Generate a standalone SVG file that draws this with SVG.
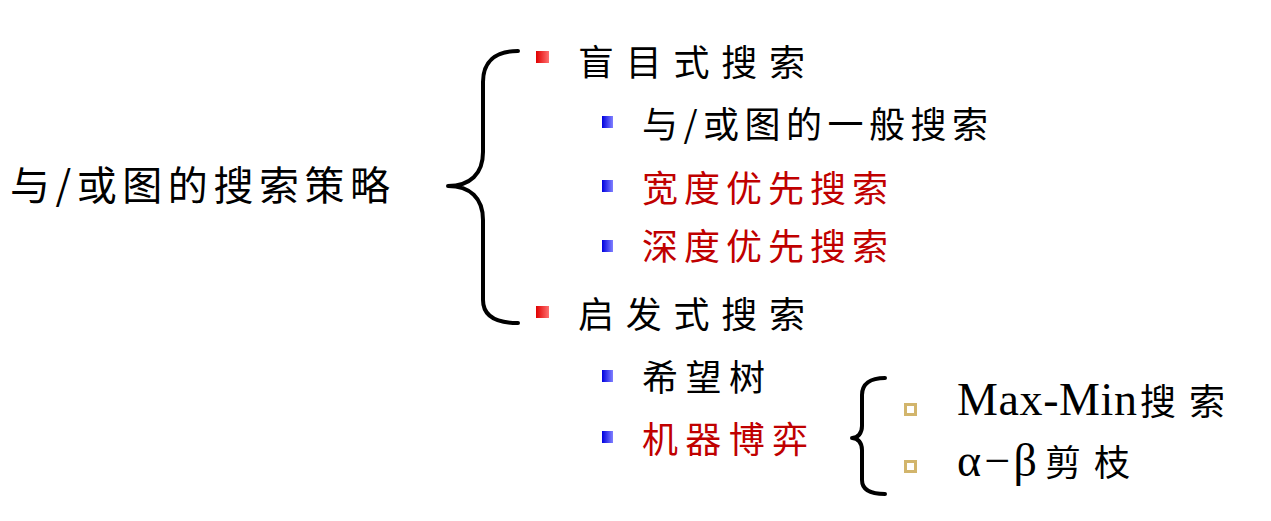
<svg xmlns="http://www.w3.org/2000/svg" width="1271" height="521" viewBox="0 0 1271 521">
<style>
.cjk{font-family:"Noto Sans CJK SC","Noto Sans CJK JP",sans-serif;fill:#000}
.red{fill:#c00000}
.lat{font-family:"Liberation Serif","Noto Sans CJK SC",serif;fill:#000}
.brace{fill:none;stroke:#000;stroke-width:4;stroke-linecap:round;stroke-linejoin:round}
.hollow{fill:#fff;stroke:#d2b56c;stroke-width:3}
</style>
<defs>
<linearGradient id="gr" x1="0" y1="0" x2="1" y2="0">
<stop offset="0" stop-color="#e00000"/><stop offset="1" stop-color="#ff7070"/>
</linearGradient>
<linearGradient id="gb" x1="0" y1="0" x2="1" y2="0">
<stop offset="0" stop-color="#0000e0"/><stop offset="1" stop-color="#8080ff"/>
</linearGradient>
</defs>
<rect width="1271" height="521" fill="#fff"/>
<g id="connectors">
<path class="brace" d="M518,51 C495,51 483,62 483,82 L483,152 C483,174 470,186 448,186 C470,186 483,198 483,220 L483,300 C483,316 495,323 518,323"/>
<path class="brace" d="M885,378 C870,378 862,384 862,395 L862,426 C862,433 858,438 852,438 C858,438 862,443 862,450 L862,480 C862,489 870,494 885,494"/>
</g>
<g id="root"><text class="cjk" x="10" y="200" font-size="40" textLength="380" lengthAdjust="spacing">与/或图的搜索策略</text></g>
<g id="blind">
<rect x="536" y="51" width="13" height="12" fill="url(#gr)"/>
<text class="cjk" x="578" y="76" font-size="36" textLength="227" lengthAdjust="spacing">盲目式搜索</text>
</g>
<g id="general">
<rect x="602" y="116" width="11" height="12" fill="url(#gb)"/>
<text class="cjk" x="642" y="138" font-size="36" textLength="346" lengthAdjust="spacing">与/或图的一般搜索</text>
</g>
<g id="bfs">
<rect x="602" y="180" width="11" height="12" fill="url(#gb)"/>
<text class="cjk red" x="642" y="202" font-size="36" textLength="246" lengthAdjust="spacing">宽度优先搜索</text>
</g>
<g id="dfs">
<rect x="602" y="240" width="11" height="12" fill="url(#gb)"/>
<text class="cjk red" x="642" y="260" font-size="36" textLength="246" lengthAdjust="spacing">深度优先搜索</text>
</g>
<g id="heuristic">
<rect x="536" y="306" width="13" height="12" fill="url(#gr)"/>
<text class="cjk" x="578" y="328" font-size="36" textLength="227" lengthAdjust="spacing">启发式搜索</text>
</g>
<g id="hopetree">
<rect x="602" y="370" width="11" height="12" fill="url(#gb)"/>
<text class="cjk" x="642" y="391" font-size="36" textLength="123" lengthAdjust="spacing">希望树</text>
</g>
<g id="game">
<rect x="602" y="431" width="11" height="12" fill="url(#gb)"/>
<text class="cjk red" x="642" y="453" font-size="36" textLength="166" lengthAdjust="spacing">机器博弈</text>
</g>
<g id="maxmin">
<rect x="905.5" y="404.5" width="10" height="10" class="hollow"/>
<text class="lat" x="957" y="415" font-size="46" textLength="180" lengthAdjust="spacing">Max-Min</text>
<text class="cjk" x="1140" y="415" font-size="36" textLength="85" lengthAdjust="spacing">搜索</text>
</g>
<g id="alphabeta">
<rect x="905.5" y="461.5" width="10" height="10" class="hollow"/>
<text class="lat" x="957" y="476" font-size="46" textLength="80" lengthAdjust="spacing">α−β</text>
<text class="cjk" x="1045" y="476" font-size="36" textLength="85" lengthAdjust="spacing">剪枝</text>
</g>
</svg>
